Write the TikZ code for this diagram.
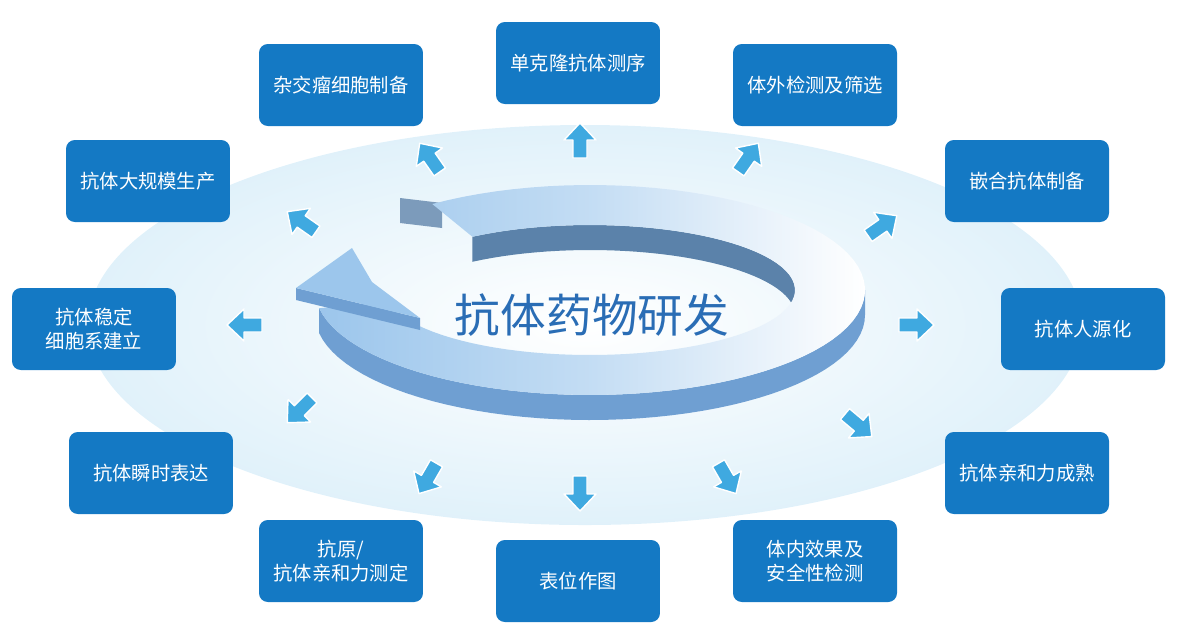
\documentclass[tikz,border=0pt]{standalone}
\usepackage{fontspec}
\newfontfamily\cjk{Noto Sans CJK SC}
\definecolor{boxblue}{HTML}{1479C4}
\definecolor{arrblue}{HTML}{3FA9E0}
\definecolor{titleblue}{HTML}{2A6DB5}
\definecolor{ringtop}{HTML}{9CC6EC}
\definecolor{ringside}{HTML}{6F9FD2}
\definecolor{ringwall}{HTML}{5B82AA}
\tikzset{
  stepbox/.style={fill=boxblue, rounded corners=5pt, text=white, minimum width=3.28cm,
    minimum height=1.64cm, align=center, font=\cjk\fontsize{11}{14}\selectfont},
  outarrow/.style={fill=arrblue, draw=white, line width=0.8pt, line join=round}
}
\begin{document}
\begin{tikzpicture}[x=0.02cm,y=-0.02cm]
  \useasboundingbox (0,0) rectangle (1185,637);

  % background disc
  \shade[inner color=white, outer color=arrblue!16] (585,325) ellipse [x radius=497, y radius=200];

  % ring: inner back wall, outer front side, top surface
  \fill[ringwall] plot[domain=235:362, variable=\t, samples=40] ({590+205*cos(\t)},{290+65*sin(\t)})
    -- plot[domain=362:235, variable=\t, samples=40] ({590+205*cos(\t)},{315+65*sin(\t)}) -- cycle;
  \fill[ringside] plot[domain=360:530, variable=\t, samples=50] ({590+275*cos(\t)},{290+105*sin(\t)})
    -- plot[domain=530:360, variable=\t, samples=50] ({590+275*cos(\t)},{315+105*sin(\t)}) -- cycle;
  \fill[ringwall!80] (400,198) -- (400,223) -- (442,228) -- (442,203) -- cycle;
  \shade[left color=ringtop, right color=white, middle color=ringtop!60]
    plot[domain=235:530, variable=\t, samples=80] ({590+275*cos(\t)},{290+105*sin(\t)})
    -- plot[domain=530:235, variable=\t, samples=80] ({590+205*cos(\t)},{290+65*sin(\t)}) -- cycle;
  % arrow head
  \fill[ringside] (296,288) -- (296,300) -- (420,330) -- (420,318) -- cycle;
  \fill[ringtop] (296,288) -- (352,248) -- (372,282) -- (420,318) -- cycle;

  \node[text=titleblue, font=\cjk\fontsize{26}{30}\selectfont] (title) at (592,315) {抗体药物研发};

  % step boxes
  \node[stepbox] (b1) at (578,63) {单克隆抗体测序};
  \node[stepbox] (b2) at (341,85) {杂交瘤细胞制备};
  \node[stepbox] (b3) at (815,85) {体外检测及筛选};
  \node[stepbox] (b4) at (148,181) {抗体大规模生产};
  \node[stepbox] (b5) at (1027,181) {嵌合抗体制备};
  \node[stepbox] (b6) at (94,329) {抗体稳定\\细胞系建立};
  \node[stepbox] (b7) at (1083,329) {抗体人源化};
  \node[stepbox] (b8) at (151,473) {抗体瞬时表达};
  \node[stepbox] (b9) at (1027,473) {抗体亲和力成熟};
  \node[stepbox] (b10) at (341,561) {抗原/\\抗体亲和力测定};
  \node[stepbox] (b11) at (578,581) {表位作图};
  \node[stepbox] (b12) at (815,561) {体内效果及\\安全性检测};

  % small arrows pointing outward
  \foreach \px/\py/\ang in {580/141/90, 430/158/125, 748/158/55, 302/222/145, 882/226/35,
      245/325/180, 916/325/0, 300/410/225, 858/425/-40, 428/478/-120, 580/493/-90, 727/478/-60}
    \draw[outarrow, shift={(\px,\py)}, rotate=\ang]
      (-17,-7) -- (1,-7) -- (1,-16) -- (18,0) -- (1,16) -- (1,7) -- (-17,7) -- cycle;
\end{tikzpicture}
\end{document}
